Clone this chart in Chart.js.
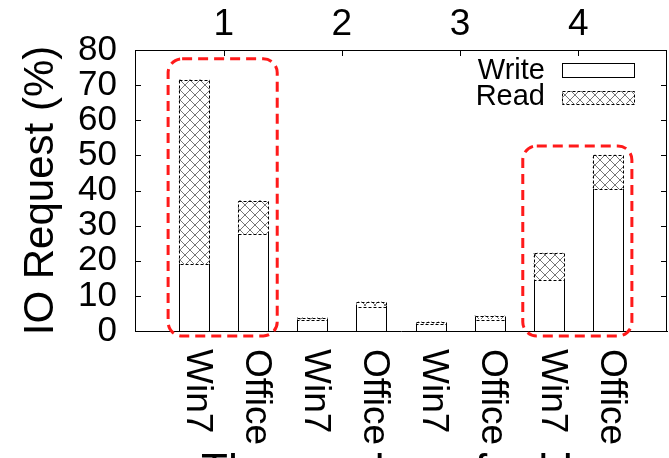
<!DOCTYPE html>
<html>
<head>
<meta charset="utf-8">
<script src="https://cdn.jsdelivr.net/npm/chart.js@4/dist/chart.umd.min.js"></script>
<style>
  body { margin: 0; background: #fff; }
  #wrap { width: 669px; height: 458px; }
</style>
</head>
<body>
<div id="wrap"><canvas id="chart"></canvas></div>
<script>
// categories and values
let traces = ["Win7", "Office", "Win7", "Office", "Win7", "Office", "Win7", "Office"];
let groups = ["1", "2", "3", "4"];
let writeVals = [19.0, 27.6, 3.2, 7.0, 2.0, 3.3, 14.4, 40.3];
let readVals = [52.5, 9.5, 0.6, 1.3, 0.6, 1.0, 7.8, 9.8];
let yTicks = [0, 10, 20, 30, 40, 50, 60, 70, 80];
// groups circled in red and how high the circle reaches (in %)
let circled = [0, 3];
let circleTop = [77.5, 52.7];

Chart.defaults.font.family = "'Liberation Sans', Arial, sans-serif";
Chart.defaults.color = "#000";

// crosshatch fill for the Read part
let tile = document.createElement("canvas");
tile.width = 10; tile.height = 10;
let tc = tile.getContext("2d");
tc.fillStyle = "#fff";
tc.fillRect(0, 0, 10, 10);
tc.strokeStyle = "#666";
tc.lineWidth = 0.9;
tc.beginPath();
tc.moveTo(0, 0); tc.lineTo(10, 10);
tc.moveTo(10, 0); tc.lineTo(0, 10);
tc.stroke();
let hatch = tc.createPattern(tile, "repeat");

let writeData = [];
let readData = [];
for (let i = 0; i < traces.length; i++) {
  writeData.push({x: i, y: writeVals[i]});
  readData.push({x: i, y: readVals[i]});
}

// everything gnuplot drew that chart.js doesn't
let extras = {
  id: "extras",
  afterDatasetsDraw(chart) {
    let ctx = chart.ctx;
    let a = chart.chartArea;
    let xs = chart.scales.x;
    let ys = chart.scales.y;

    // solid sides of write boxes
    let writeMeta = chart.getDatasetMeta(0);
    ctx.save();
    ctx.strokeStyle = "#000";
    ctx.lineWidth = 1;
    ctx.beginPath();
    writeMeta.data.forEach(function(el) {
      let p = el.getProps(["x", "y", "base", "width"], true);
      let l = Math.round(p.x - p.width / 2) + 0.5;
      let r = l + Math.round(p.width);
      ctx.moveTo(l, Math.round(p.base)); ctx.lineTo(l, Math.round(p.y));
      ctx.moveTo(r, Math.round(p.base)); ctx.lineTo(r, Math.round(p.y));
    });
    ctx.stroke();
    ctx.restore();

    // dashed outline of read boxes
    let readMeta = chart.getDatasetMeta(1);
    ctx.save();
    ctx.strokeStyle = "#000";
    ctx.lineWidth = 1;
    ctx.setLineDash([3, 2]);
    readMeta.data.forEach(function(el) {
      let p = el.getProps(["x", "y", "base", "width"], true);
      ctx.strokeRect(Math.round(p.x - p.width / 2) + 0.5, Math.round(p.y) + 0.5,
                     Math.round(p.width), Math.round(p.base - p.y));
    });
    ctx.restore();

    // frame: top and right sides
    ctx.save();
    ctx.strokeStyle = "#000";
    ctx.lineWidth = 1;
    ctx.beginPath();
    ctx.moveTo(a.left, a.top + 0.5); ctx.lineTo(a.right, a.top + 0.5);
    ctx.moveTo(a.right - 0.5, a.top); ctx.lineTo(a.right - 0.5, a.bottom);
    // inner y ticks on both sides
    yTicks.forEach(function(v) {
      let py = Math.round(ys.getPixelForValue(v)) + 0.5;
      ctx.moveTo(a.left, py); ctx.lineTo(a.left + 6, py);
      ctx.moveTo(a.right, py); ctx.lineTo(a.right - 6, py);
    });
    // top ticks at group centres
    groups.forEach(function(g, k) {
      let px = Math.round(xs.getPixelForValue(2 * k + 0.5)) + 0.5;
      ctx.moveTo(px, a.top); ctx.lineTo(px, a.top + 6);
    });
    ctx.stroke();
    ctx.restore();

    // group numbers above the frame
    ctx.save();
    ctx.fillStyle = "#000";
    ctx.font = "37px 'Liberation Sans', Arial, sans-serif";
    ctx.textAlign = "center";
    ctx.textBaseline = "alphabetic";
    groups.forEach(function(g, k) {
      ctx.fillText(g, xs.getPixelForValue(2 * k + 0.5), 35);
    });
    ctx.restore();

    // rotated trace names under the bars
    ctx.save();
    ctx.fillStyle = "#000";
    ctx.font = "37px 'Liberation Sans', Arial, sans-serif";
    ctx.textAlign = "left";
    ctx.textBaseline = "middle";
    traces.forEach(function(t, i) {
      ctx.save();
      ctx.translate(xs.getPixelForValue(i) + 3, a.bottom + 18);
      ctx.rotate(Math.PI / 2);
      ctx.fillText(t, 0, 0);
      ctx.restore();
    });
    ctx.restore();

    // x axis title, mostly off the bottom edge
    ctx.save();
    ctx.fillStyle = "#000";
    ctx.font = "44px 'Liberation Sans', Arial, sans-serif";
    ctx.textAlign = "left";
    ctx.textBaseline = "alphabetic";
    ctx.fillText("The number of addresses", 201, 485);
    ctx.restore();

    // legend
    ctx.save();
    ctx.fillStyle = "#000";
    ctx.font = "29px 'Liberation Sans', Arial, sans-serif";
    ctx.textAlign = "right";
    ctx.fillText("Write", 545, 79);
    ctx.fillText("Read", 545, 105);
    ctx.fillStyle = "#fff";
    ctx.fillRect(562, 63, 72, 14);
    ctx.strokeStyle = "#000";
    ctx.lineWidth = 1;
    ctx.strokeRect(562.5, 63.5, 72, 14);
    ctx.fillStyle = hatch;
    ctx.fillRect(562, 91, 72, 13);
    ctx.setLineDash([3, 2]);
    ctx.strokeRect(562.5, 91.5, 72, 13);
    ctx.restore();

    // red dashed rounded boxes
    ctx.save();
    ctx.strokeStyle = "#ff1a1a";
    ctx.lineWidth = 3;
    ctx.setLineDash([10, 6]);
    circled.forEach(function(g, k) {
      let b0 = writeMeta.data[2 * g].getProps(["x", "width"], true);
      let b1 = writeMeta.data[2 * g + 1].getProps(["x", "width"], true);
      let left = b0.x - b0.width / 2 - 11;
      let right = b1.x + b1.width / 2 + 9;
      let top = ys.getPixelForValue(circleTop[k]);
      let bottom = a.bottom + 5;
      ctx.beginPath();
      ctx.roundRect(left, top, right - left, bottom - top, 14);
      ctx.stroke();
    });
    ctx.restore();
  }
};

new Chart(document.getElementById("chart"), {
  type: "bar",
  data: {
    datasets: [
      {
        label: "Write",
        data: writeData,
        backgroundColor: "#fff",
        borderWidth: 0,
        barThickness: 30
      },
      {
        label: "Read",
        data: readData,
        backgroundColor: hatch,
        borderWidth: 0,
        barThickness: 30
      }
    ]
  },
  options: {
    responsive: true,
    maintainAspectRatio: false,
    animation: false,
    layout: {padding: {top: 50, right: 2, left: 0, bottom: 0}},
    plugins: {
      legend: {display: false},
      tooltip: {enabled: false}
    },
    scales: {
      x: {
        type: "linear",
        stacked: true,
        offset: false,
        min: -1,
        max: 8,
        grid: {display: false, drawTicks: false},
        border: {display: true, color: "#000", width: 1},
        ticks: {display: false},
        afterFit: function(s) { s.height = 127; }
      },
      y: {
        stacked: true,
        min: 0,
        max: 80,
        grid: {display: false, drawTicks: false},
        border: {display: true, color: "#000", width: 1},
        ticks: {
          stepSize: 10,
          autoSkip: false,
          padding: 18,
          color: "#000",
          font: {size: 35}
        },
        title: {
          display: true,
          text: "IO Request (%)",
          color: "#000",
          font: {size: 42},
          padding: {top: 16, bottom: 0}
        },
        afterFit: function(s) { s.width = 135; }
      }
    }
  },
  plugins: [extras]
});
</script>
</body>
</html>
